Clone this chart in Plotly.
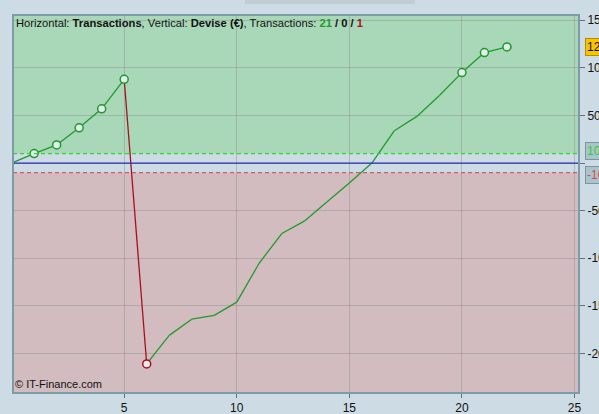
import plotly.graph_objects as go

# ---- data ----
trades = list(range(0, 23))
equity = [0, 10, 19, 37, 57, 88, -211, -181, -164, -160, -146, -105, -74, -61,
          -41, -21, 0, 34, 49, 71, 95, 116, 122]
upper_band = 10
lower_band = -10
x_ticks = [5, 10, 15, 20, 25]
y_ticks = [-200, -150, -100, -50, 0, 50, 100, 150]
y_ticklabels = ["-200", "-150", "-100", "-50", "", "50", "100", "150"]
wins, neutral, losses = 21, 0, 1

GREEN = "#1f9a2a"
RED = "#a8101c"
BG = "#cddce4"
GREEN_ZONE = "#a9d8b9"
RED_ZONE = "#d2bcc0"

W, H = 599, 414
ML, MR, MT, MB = 13, 20, 15, 21
YR = [-241.5, 155.5]
XR = [0.062, 25.2]

fig = go.Figure()

# zones
fig.add_shape(type="rect", xref="paper", yref="y", x0=0, x1=1, y0=upper_band, y1=YR[1],
              fillcolor=GREEN_ZONE, line_width=0, layer="below")
fig.add_shape(type="rect", xref="paper", yref="y", x0=0, x1=1, y0=YR[0], y1=lower_band,
              fillcolor=RED_ZONE, line_width=0, layer="below")

# band lines and zero line
fig.add_shape(type="line", xref="paper", yref="y", x0=0, x1=1, y0=upper_band, y1=upper_band,
              line=dict(color="#33d433", width=1.2, dash="4px,3px"))
fig.add_shape(type="line", xref="paper", yref="y", x0=0, x1=1, y0=lower_band, y1=lower_band,
              line=dict(color="#d05a6a", width=1.2, dash="4px,3px"))
fig.add_shape(type="line", xref="paper", yref="y", x0=0, x1=1, y0=0, y1=0,
              line=dict(color="#2a2ab8", width=1.2))

# line segments colored by direction
gx, gy, rx, ry = [], [], [], []
for i in range(1, len(trades)):
    if equity[i] >= equity[i - 1]:
        gx += [trades[i - 1], trades[i], None]
        gy += [equity[i - 1], equity[i], None]
    else:
        rx += [trades[i - 1], trades[i], None]
        ry += [equity[i - 1], equity[i], None]
fig.add_trace(go.Scatter(x=gx, y=gy, mode="lines", line=dict(color=GREEN, width=1.3),
                         hoverinfo="skip", showlegend=False))
fig.add_trace(go.Scatter(x=rx, y=ry, mode="lines", line=dict(color=RED, width=1.3),
                         hoverinfo="skip", showlegend=False))

# markers at new highs / new lows
hx, hy, lx, ly = [], [], [], []
hi = lo = equity[0]
for i in range(1, len(trades)):
    if equity[i] > hi:
        hi = equity[i]
        hx.append(trades[i]); hy.append(equity[i])
    elif equity[i] < lo:
        lo = equity[i]
        lx.append(trades[i]); ly.append(equity[i])
fig.add_trace(go.Scatter(x=hx, y=hy, mode="markers",
                         marker=dict(size=8, color="#e4ecf0", line=dict(color=GREEN, width=1.5)),
                         showlegend=False))
fig.add_trace(go.Scatter(x=lx, y=ly, mode="markers",
                         marker=dict(size=8, color="#e4ecf0", line=dict(color=RED, width=1.5)),
                         showlegend=False))

# border
fig.add_shape(type="rect", xref="paper", yref="paper", x0=0, x1=1, y0=0, y1=1,
              line=dict(color="#7c9da8", width=2))

# top tab
fig.add_shape(type="rect", xref="paper", yref="paper",
              x0=(245 - ML) / (W - ML - MR), x1=(415 - ML) / (W - ML - MR),
              y0=1 + 11 / (H - MT - MB), y1=1 + 16 / (H - MT - MB),
              fillcolor="#bfcdd5", line_width=0, layer="below")

FONT = "Liberation Sans, Arial, sans-serif"

title = ("Horizontal: <b>Transactions</b>, Vertical: <b>Devise (€)</b>, Transactions: "
         f"<b><span style='color:{GREEN}'>{wins}</span> / {neutral} / "
         f"<span style='color:{RED}'>{losses}</span></b>")
fig.add_annotation(text=title, xref="paper", yref="paper", x=0, y=1, xanchor="left",
                   yanchor="top", xshift=1, yshift=0, showarrow=False,
                   font=dict(family=FONT, size=11.2, color="#111111"))
fig.add_annotation(text="© IT-Finance.com", xref="paper", yref="paper", x=0, y=0,
                   xanchor="left", yanchor="bottom", xshift=0, yshift=1, showarrow=False,
                   font=dict(family=FONT, size=11, color="#111111"))

# right-side value boxes
fig.add_annotation(text=str(equity[-1]), xref="paper", yref="y", x=1, y=equity[-1],
                   xanchor="left", xshift=6, showarrow=False, bgcolor="#f8c400",
                   bordercolor="#b09000", borderwidth=1, borderpad=1,
                   font=dict(family=FONT, size=12, color="#111111"))
fig.add_annotation(text=str(upper_band), xref="paper", yref="y", x=1, y=upper_band,
                   xanchor="left", xshift=6, yshift=3, showarrow=False, bgcolor="#aac4cc",
                   bordercolor="#7a96a0", borderwidth=1, borderpad=1,
                   font=dict(family=FONT, size=12, color="#33cc33"))
fig.add_annotation(text=str(lower_band), xref="paper", yref="y", x=1, y=lower_band,
                   xanchor="left", xshift=6, yshift=-2, showarrow=False, bgcolor="#aac4cc",
                   bordercolor="#7a96a0", borderwidth=1, borderpad=1,
                   font=dict(family=FONT, size=12, color="#dd4455"))

fig.update_layout(
    width=W, height=H,
    margin=dict(l=ML, r=MR, t=MT, b=MB, pad=0, autoexpand=False),
    paper_bgcolor=BG, plot_bgcolor=BG,
    showlegend=False,
    font=dict(family=FONT, size=12, color="#111111"),
    xaxis=dict(range=XR, tickvals=x_ticks, ticks="outside", ticklen=4, tickcolor="#607080",
               showgrid=True, gridcolor="rgba(140,140,140,0.45)", gridwidth=1,
               zeroline=False, showline=False, fixedrange=True, automargin=False),
    yaxis=dict(range=YR, side="right", tickvals=y_ticks, ticktext=y_ticklabels,
               ticks="outside", ticklen=5, tickcolor="#607080",
               showgrid=True, gridcolor="rgba(140,140,140,0.45)", gridwidth=1,
               zeroline=False, showline=False, fixedrange=True, automargin=False),
)

fig.write_html(
    "out.html",
    config={"displayModeBar": False},
    post_script="document.body.style.margin='0';document.body.style.background='%s';" % BG,
)
